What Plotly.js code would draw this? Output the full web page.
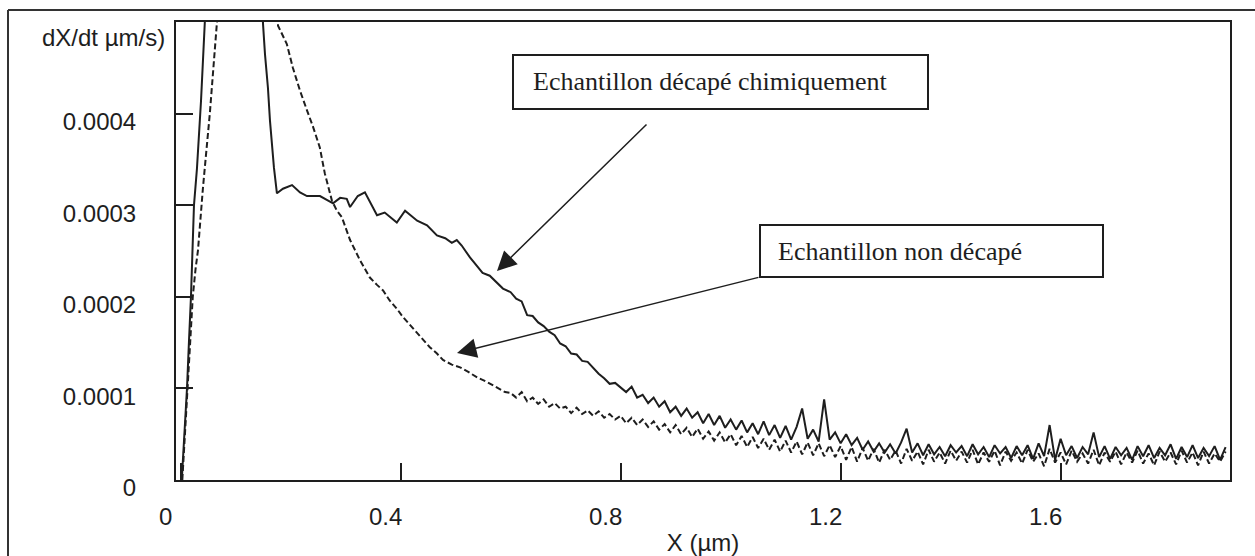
<!DOCTYPE html>
<html>
<head>
<meta charset="utf-8">
<script src="https://cdn.plot.ly/plotly-3.0.1.min.js"></script>
<style>html,body{margin:0;padding:0;background:#fff;}#chart{width:1255px;height:556px;}</style>
</head>
<body>
<div id="chart"></div>
<script>
// ---- Data (y in units of 1e-4 µm/s) ----
var xTickVals = [0, 0.4, 0.8, 1.2, 1.6];
var xTickText = ["0", "0.4", "0.8", "1.2", "1.6"];
var yTickVals = [0, 0.0001, 0.0002, 0.0003, 0.0004];
var yTickText = ["0", "0.0001", "0.0002", "0.0003", "0.0004"];

// Echantillon décapé chimiquement — start of curve
var xHeadDecape = [0.002,0.007,0.0115,0.015,0.0187,0.0242,0.0296,0.037,0.044,0.06,0.10,0.14,
  0.1496,0.1533,0.1587,0.1624,0.1696,0.175,0.186,0.2025,0.217,0.2296,0.2533,0.277,0.29,0.302,
  0.308,0.322,0.335,0.348,0.357,0.371,0.382,0.393,0.408,0.419,0.430,0.448,0.457,0.466,0.481,
  0.493,0.502,0.511,0.526,0.539,0.549,0.562,0.575,0.586];
var yHeadDecape = [0,0.5,1.0,1.5,2.0,3.0,3.4,4.14,5.0,7.0,8.0,7.0,
  4.99,4.65,4.28,3.92,3.41,3.13,3.18,3.22,3.14,3.10,3.10,3.02,3.08,3.07,
  2.98,3.10,3.14,3.00,2.89,2.92,2.86,2.81,2.94,2.88,2.83,2.78,2.72,2.67,2.64,
  2.59,2.62,2.56,2.43,2.34,2.26,2.23,2.15,2.09];

// Echantillon non décapé — start of curve
var xHeadNonDecape = [0.003,0.008,0.013,0.018,0.022,0.027,0.0315,0.0405,0.053,0.066,0.09,0.13,0.17,
  0.177,0.193,0.204,0.217,0.230,0.241,0.253,0.262,0.275,0.284,0.293,0.308,0.326,0.344,0.357,
  0.368,0.380,0.393,0.404,0.417,0.430,0.441,0.453,0.466,0.477,0.493,0.508,0.523,0.539,0.557,
  0.575,0.590];
var yHeadNonDecape = [0,0.5,1.0,1.5,2.0,2.3,2.51,3.19,4.0,5.0,7.5,8.5,6.0,
  4.96,4.76,4.50,4.25,4.03,3.85,3.63,3.35,3.05,2.94,2.87,2.62,2.40,2.21,2.13,
  2.07,1.96,1.87,1.78,1.69,1.60,1.53,1.45,1.38,1.31,1.26,1.23,1.18,1.12,1.07,
  1.01,0.96];

// Common x positions for the noisy tail of both curves
var xTail = [0.60,0.61,0.62,0.63,0.64,0.65,0.66,0.67,0.68,0.69,0.70,0.71,0.72,0.73,0.74,0.75,0.76,0.77,0.78,0.79,
  0.80,0.81,0.82,0.83,0.84,0.85,0.86,0.87,0.88,0.89,0.90,0.91,0.92,0.93,0.94,0.95,0.96,0.97,0.98,0.99,
  1.00,1.01,1.02,1.03,1.04,1.05,1.06,1.07,1.08,1.09,1.10,1.11,1.12,1.13,1.14,1.15,1.16,1.17,1.18,1.19,
  1.20,1.21,1.22,1.23,1.24,1.25,1.26,1.27,1.28,1.29,1.30,1.31,1.32,1.33,1.34,1.35,1.36,1.37,1.38,1.39,
  1.40,1.41,1.42,1.43,1.44,1.45,1.46,1.47,1.48,1.49,1.50,1.51,1.52,1.53,1.54,1.55,1.56,1.57,1.58,1.59,
  1.60,1.61,1.62,1.63,1.64,1.65,1.66,1.67,1.68,1.69,1.70,1.71,1.72,1.73,1.74,1.75,1.76,1.77,1.78,1.79,
  1.80,1.81,1.82,1.83,1.84,1.85,1.86,1.87,1.88,1.89,1.90];
var yTailDecape = [2.05,1.98,1.95,1.80,1.79,1.72,1.68,1.62,1.58,1.49,1.46,1.38,1.37,1.30,1.29,1.22,1.16,1.11,1.05,1.06,
  1.01,0.96,1.02,0.90,0.93,0.84,0.90,0.80,0.86,0.74,0.80,0.70,0.78,0.68,0.74,0.62,0.72,0.60,0.70,0.57,
  0.66,0.55,0.65,0.52,0.62,0.50,0.64,0.49,0.60,0.46,0.59,0.44,0.58,0.78,0.45,0.55,0.42,0.88,0.44,0.52,
  0.40,0.50,0.38,0.46,0.33,0.42,0.31,0.40,0.30,0.39,0.29,0.41,0.56,0.30,0.40,0.27,0.39,0.28,0.36,0.26,
  0.38,0.30,0.37,0.26,0.39,0.28,0.36,0.25,0.38,0.29,0.36,0.24,0.37,0.27,0.38,0.23,0.40,0.26,0.60,0.22,
  0.45,0.27,0.37,0.24,0.36,0.28,0.52,0.25,0.37,0.23,0.36,0.27,0.35,0.22,0.37,0.26,0.38,0.24,0.35,0.27,
  0.39,0.23,0.36,0.25,0.38,0.24,0.35,0.26,0.37,0.22,0.36];
var yTailNonDecape = [0.95,0.90,0.96,0.86,0.90,0.83,0.88,0.80,0.84,0.78,0.80,0.73,0.79,0.72,0.76,0.70,0.75,0.68,0.72,0.66,
  0.70,0.62,0.68,0.60,0.66,0.58,0.64,0.55,0.61,0.52,0.60,0.50,0.57,0.47,0.56,0.45,0.53,0.43,0.52,0.41,
  0.50,0.38,0.48,0.36,0.47,0.35,0.45,0.33,0.44,0.31,0.43,0.30,0.42,0.28,0.41,0.27,0.40,0.26,0.38,0.25,
  0.37,0.22,0.36,0.20,0.35,0.21,0.34,0.19,0.33,0.22,0.32,0.18,0.34,0.21,0.31,0.17,0.33,0.20,0.30,0.18,
  0.32,0.21,0.31,0.19,0.33,0.17,0.30,0.20,0.32,0.16,0.31,0.21,0.30,0.18,0.33,0.20,0.29,0.15,0.34,0.19,
  0.30,0.17,0.32,0.20,0.29,0.18,0.33,0.16,0.30,0.20,0.31,0.17,0.30,0.19,0.32,0.18,0.29,0.16,0.31,0.20,
  0.30,0.17,0.32,0.19,0.30,0.16,0.31,0.18,0.29,0.20,0.31];

var UNIT = 1e-4;
function toUnits(a){ return a.map(function(v){ return v * UNIT; }); }

var xDecape = xHeadDecape.concat(xTail);
var yDecape = toUnits(yHeadDecape.concat(yTailDecape));
var xNonDecape = xHeadNonDecape.concat(xTail);
var yNonDecape = toUnits(yHeadNonDecape.concat(yTailNonDecape));

// ---- Layout helpers (pixel -> paper) ----
var L = 176, R = 1230, T = 22, B = 480;
function px(x){ return (x - L) / (R - L); }
function py(y){ return (B - y) / (B - T); }

var ink = '#1e1e1e';
var sans = 'Liberation Sans, Arial, sans-serif';
var serif = 'Liberation Serif, Times New Roman, serif';

var traces = [
  {x: xDecape, y: yDecape, type: 'scatter', mode: 'lines', name: 'Echantillon décapé chimiquement',
   line: {color: ink, width: 2}, hoverinfo: 'skip', showlegend: false},
  {x: xNonDecape, y: yNonDecape, type: 'scatter', mode: 'lines', name: 'Echantillon non décapé',
   line: {color: ink, width: 2, dash: '6px,3px'}, hoverinfo: 'skip', showlegend: false}
];

var layout = {
  width: 1255, height: 556,
  margin: {l: L, r: 1255 - R, t: T, b: 556 - B, pad: 0},
  paper_bgcolor: '#ffffff', plot_bgcolor: '#ffffff',
  showlegend: false,
  xaxis: {
    range: [-0.0085, 1.908], tickmode: 'array', tickvals: xTickVals, ticktext: xTickText,
    ticks: 'inside', ticklen: 17, tickwidth: 2, tickcolor: ink,
    showline: true, linewidth: 2, linecolor: ink, mirror: true,
    showgrid: false, zeroline: false,
    tickfont: {family: sans, size: 24, color: ink},
    ticklabelstandoff: 14, ticklabelshift: -15,
    title: {text: 'X (µm)', font: {family: sans, size: 24, color: ink}, standoff: 8}
  },
  yaxis: {
    range: [0, 0.0005], tickmode: 'array', tickvals: yTickVals, ticktext: yTickText,
    ticks: 'inside', ticklen: 17, tickwidth: 2, tickcolor: ink,
    showline: true, linewidth: 2, linecolor: ink, mirror: true,
    showgrid: false, zeroline: false,
    tickfont: {family: sans, size: 24, color: ink},
    ticklabelstandoff: 33, ticklabelshift: 8
  },
  shapes: [
    {type: 'line', xref: 'paper', yref: 'paper', x0: px(8), x1: px(1255), y0: py(10), y1: py(10),
     line: {color: '#333', width: 2}},
    {type: 'line', xref: 'paper', yref: 'paper', x0: px(8), x1: px(8), y0: py(10), y1: py(560),
     line: {color: '#333', width: 2}},
    {type: 'rect', xref: 'paper', yref: 'paper', x0: px(513), x1: px(928), y0: py(109), y1: py(55),
     line: {color: ink, width: 2}},
    {type: 'rect', xref: 'paper', yref: 'paper', x0: px(760), x1: px(1103), y0: py(277), y1: py(225),
     line: {color: ink, width: 2}}
  ],
  annotations: [
    {xref: 'paper', yref: 'paper', x: px(40), y: py(38), xanchor: 'left', yanchor: 'middle',
     text: 'dX/dt µm/s)', showarrow: false, font: {family: sans, size: 24, color: ink}},
    {xref: 'paper', yref: 'paper', x: px(531), y: py(82), xanchor: 'left', yanchor: 'middle',
     text: 'Echantillon décapé chimiquement', showarrow: false, font: {family: serif, size: 26, color: ink}},
    {xref: 'paper', yref: 'paper', x: px(776), y: py(251), xanchor: 'left', yanchor: 'middle',
     text: 'Echantillon non décapé', showarrow: false, font: {family: serif, size: 26, color: ink}},
    {xref: 'paper', yref: 'paper', x: px(497), y: py(271), text: '', showarrow: true,
     ax: 648 - 497, ay: 123 - 271, arrowhead: 2, arrowsize: 2.6, arrowwidth: 1.5, arrowcolor: ink, standoff: 0},
    {xref: 'paper', yref: 'paper', x: px(457), y: py(353), text: '', showarrow: true,
     ax: 760 - 457, ay: 277 - 353, arrowhead: 2, arrowsize: 2.6, arrowwidth: 1.5, arrowcolor: ink, standoff: 0}
  ]
};

Plotly.newPlot('chart', traces, layout, {displayModeBar: false, staticPlot: true});
</script>
</body>
</html>
